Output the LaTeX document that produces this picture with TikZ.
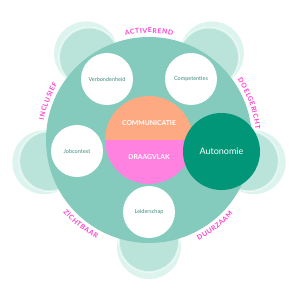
\documentclass[tikz,border=0pt]{standalone}
\usepackage{fontspec}
\setsansfont{Lato}
\newfontfamily\arcfont[WordSpace=0.35]{Lato}
\usetikzlibrary{decorations.text}
\definecolor{TableGreen}{HTML}{84CBBD}
\definecolor{SeatMid}{HTML}{BAE4D9}
\definecolor{SeatLight}{HTML}{DCF4ED}
\definecolor{CoreOrange}{HTML}{FDA982}
\definecolor{CorePink}{HTML}{FF82E1}
\definecolor{AutoGreen}{HTML}{009677}
\definecolor{ValueMagenta}{HTML}{FF3ECF}
\definecolor{LabelTeal}{HTML}{3F8A7E}

\begin{document}
\begin{tikzpicture}[x=1pt, y=1pt,
    seatout/.style={circle, fill=SeatLight, minimum size=64pt, inner sep=0},
    seatin/.style={circle, fill=SeatMid, minimum size=58pt, inner sep=0},
    roundtable/.style={circle, fill=TableGreen, minimum size=206pt, inner sep=0},
    factor/.style={circle, fill=white, minimum size=52pt, inner sep=0, font=\sffamily\fontsize{5.5}{6}\selectfont, text=LabelTeal},
    corelbl/.style={font=\sffamily\bfseries\fontsize{6.8}{8}\selectfont, text=white},
    valuearc/.style={decorate, decoration={text along path, text align=center, text={|\color{ValueMagenta}\arcfont\bfseries\fontsize{6.8}{8}\selectfont|#1}}}
  ]
    \useasboundingbox (-149,-160) rectangle (151,140);

    \foreach \a/\n in {126/tl, 54/tr, 192/l, 348/r, 270/b} {
      \node[seatout] (out-\n) at (\a:107) {};
      \node[seatin] (in-\n) at (\a:102) {};
      \draw[white, opacity=0.7, line width=0.5pt] (in-\n) circle[radius=30.5];
    }

    \node[roundtable] (tbl) at (0,0) {};

    \node[factor] (verb) at (-42,61) {Verbondenheid};
    \node[factor] (comp) at (42,61) {Competenties};
    \node[factor] (job) at (-72,-11) {Jobcontext};
    \node[factor] (lead) at (0,-72) {Leiderschap};

    \node[circle, minimum size=88pt, inner sep=0, path picture={
        \fill[CoreOrange] (path picture bounding box.north west) rectangle (path picture bounding box.east);
        \fill[CorePink] (path picture bounding box.west) rectangle (path picture bounding box.south east);
      }] (core) at (0,0) {};
    \node[corelbl] (comm) at (0,17) {COMMUNICATIE};
    \node[corelbl] (draag) at (0,-17) {DRAAGVLAK};

    \node[circle, fill=AutoGreen, minimum size=77pt, inner sep=0, text=white, font=\sffamily\fontsize{9}{10}\selectfont] (auto) at (72.5,-11.5) {Autonomie};

    \path[valuearc={A C T I V E R E N D}] (115:107) arc[start angle=115, end angle=65, radius=107];
    \path[valuearc={I N C L U S I E F}] (185:107) arc[start angle=185, end angle=133, radius=107];
    \path[valuearc={D O E L G E R I C H T}] (48:107) arc[start angle=48, end angle=-8, radius=107];
    \path[valuearc={Z I C H T B A A R}] (205:112) arc[start angle=205, end angle=257, radius=112];
    \path[valuearc={D U U R Z A A M}] (282:112) arc[start angle=282, end angle=333, radius=112];
  \end{tikzpicture}
\end{document}
